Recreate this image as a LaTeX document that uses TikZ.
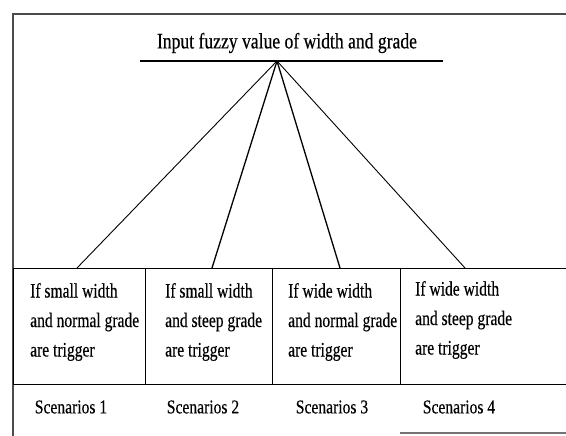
\documentclass[tikz,border=0pt]{standalone}
\usepackage{fontspec}
\setmainfont{Liberation Serif}
\newfontfamily\titlefont[FakeStretch=0.8,FakeBold=0.4]{Liberation Serif}
\newfontfamily\bodyfont[FakeStretch=0.76,FakeBold=0.3]{Liberation Serif}
\newfontfamily\scenfont[FakeStretch=0.8,FakeBold=0.3]{Liberation Serif}
\tikzset{
  frame/.style={draw=black!70, line width=1.6pt},
  link/.style={draw=black, line width=0.9pt},
  cell/.style={draw=black, line width=0.9pt, rectangle, anchor=south west, outer sep=0pt,
    inner sep=0pt, minimum height=116pt},
  celltext/.style={anchor=west, inner sep=0pt, align=left,
    font=\bodyfont\fontsize{20.5}{29.5}\selectfont},
  scen/.style={font=\scenfont\fontsize{19.5}{22}\selectfont, inner sep=0pt},
  titletext/.style={font=\titlefont\fontsize{22}{26}\selectfont, inner sep=0pt}
}
\begin{document}
\begin{tikzpicture}[x=1pt,y=1pt]
\useasboundingbox (0,0) rectangle (566,436);
% outer frame (partial, as scanned)
\draw[frame] (13,0) -- (13,422) -- (566,422);
\draw[draw=black!55, line width=1.2pt] (400,3) -- (566,3);
% title
\node[titletext] (title) at (287,393) {Input fuzzy value of width and grade};
\coordinate (lineL) at (140,375);
\coordinate (lineR) at (443,375);
\draw[link, line width=1.3pt] (lineL) -- (lineR);
\coordinate (apex) at (277,375);
% boxes
\node[cell, minimum width=132pt] (box1) at (13,52) {};
\node[cell, minimum width=127pt] (box2) at (box1.south east) {};
\node[cell, minimum width=128pt] (box3) at (box2.south east) {};
\node[cell, minimum width=166pt] (box4) at (box3.south east) {};
\node[celltext] (t1) at ([xshift=17pt,yshift=4pt]box1.west) {If small width\\and normal grade\\are trigger};
\node[celltext] (t2) at ([xshift=20pt,yshift=4pt]box2.west) {If small width\\and steep grade\\are trigger};
\node[celltext] (t3) at ([xshift=16pt,yshift=4pt]box3.west) {If wide width\\and normal grade\\are trigger};
\node[celltext] (t4) at ([xshift=15pt,yshift=6pt]box4.west) {If wide width\\and steep grade\\are trigger};
% connectors
\draw[link] (apex) -- ([xshift=64pt]box1.north west);
\draw[link, line width=1.3pt] (apex) -- ([xshift=67pt]box2.north west);
\draw[link, line width=1.3pt] (apex) -- ([xshift=68pt]box3.north west);
\draw[link] (apex) -- ([xshift=65pt]box4.north west);
% scenarios
\node[scen] (s1) at (71,29) {Scenarios 1};
\node[scen] (s2) at (203,29) {Scenarios 2};
\node[scen] (s3) at (332,29) {Scenarios 3};
\node[scen] (s4) at (459,29) {Scenarios 4};
\end{tikzpicture}
\end{document}
